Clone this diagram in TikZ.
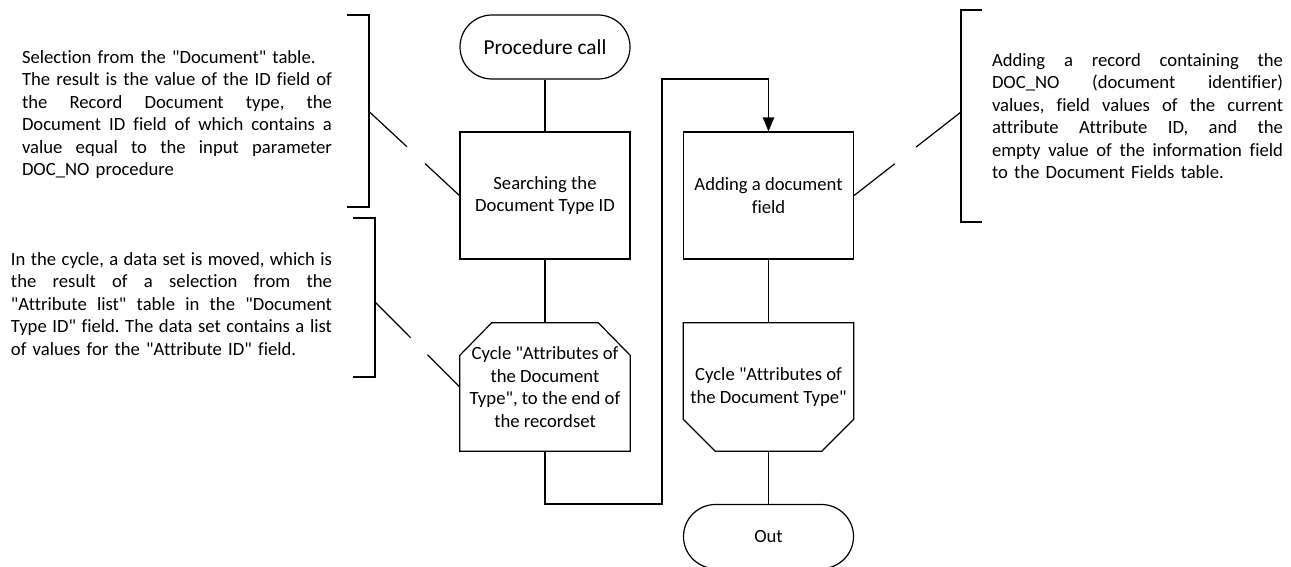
\documentclass[tikz,border=0pt]{standalone}
\usepackage{fontspec}
\setmainfont{Carlito}[Ligatures={TeXOff,CommonOff}]
\usetikzlibrary{arrows.meta,calc}
\setlength{\parindent}{0pt}
\frenchspacing
% one fully justified line of a note, of the given width
\newcommand{\justline}[2]{{\spaceskip=0pt\xspaceskip=0pt\makebox[#1][s]{#2}}}
\begin{document}
\begin{tikzpicture}[x=0.75pt,y=-0.75pt,
  every node/.style={font=\fontsize{14pt}{16.9pt}\selectfont},
  wire/.style={line width=0.9pt, draw=black},
  box/.style={draw, wire, minimum width=127.5pt, minimum height=95.25pt, inner sep=0pt, align=center},
  loopbox/.style={minimum width=127.5pt, minimum height=96pt, inner sep=0pt, align=center},
  terminal/.style={draw, wire, rounded corners=24pt, minimum width=127.5pt, minimum height=48pt, inner sep=0pt},
  note/.style={inner sep=0pt, align=left},
  flow/.style={wire, -{Triangle[length=10.5pt,width=8.5pt]}},
]
\useasboundingbox (0,0) rectangle (1291,567);

% flowchart blocks
\node[terminal, font=\fontsize{16pt}{19pt}\selectfont] (start) at (545,47) {Procedure call};
\node[box] (search) at (545,195.5) {Searching the\\Document Type ID};
\node[loopbox] (cyc1) at (545,387) {Cycle "Attributes of\\the Document\\Type", to the end of\\the recordset};
\node[box] (addf) at (768.5,195.5) {Adding a document\\field};
\node[loopbox] (cyc2) at (768.5,387) {Cycle "Attributes of\\the Document Type"};
\node[terminal] (out) at (768.5,536.5) {Out};

% loop start: top corners cut
\draw[wire] (cyc1.south west) -- ([yshift=-24.5pt]cyc1.north west) -- ([xshift=24pt]cyc1.north west)
  -- ([xshift=-24pt]cyc1.north east) -- ([yshift=-24.5pt]cyc1.north east) -- (cyc1.south east) -- cycle;
% loop end: bottom corners cut
\draw[wire] (cyc2.north west) -- ([yshift=24pt]cyc2.south west) -- ([xshift=24pt]cyc2.south west)
  -- ([xshift=-24pt]cyc2.south east) -- ([yshift=24pt]cyc2.south east) -- (cyc2.north east) -- cycle;

% connectors
\draw[wire] (start) -- (search);
\draw[wire] (search) -- (cyc1);
\draw[wire] (addf) -- (cyc2);
\draw[wire] (cyc2) -- (out);
\coordinate (jogA) at (662,504);
\coordinate (jogB) at (662,79);
\draw[flow] (cyc1.south) |- (jogA) -- (jogB) -| (addf.north);

% notes
\node[note, text width=232.5pt] (noteA) at (177,114.5) {Selection from the "Document" table.\\
\justline{232.5pt}{The result is the value of the ID field of}\\
\justline{232.5pt}{the Record Document type, the}\\
\justline{232.5pt}{Document ID field of which contains a}\\
\justline{232.5pt}{value equal to the input parameter}\\
DOC\_NO procedure};

\node[note, text width=240.75pt] (noteB) at (171.5,304) {\justline{240.75pt}{In the cycle, a data set is moved, which is}\\
\justline{240.75pt}{the result of a selection from the}\\
\justline{240.75pt}{"Attribute list" table in the "Document}\\
\justline{240.75pt}{Type ID" field. The data set contains a list}\\
of values for the "Attribute ID" field.};

\node[note, text width=218.25pt] (noteC) at (1137.5,116) {\justline{218.25pt}{Adding a record containing the}\\
\justline{218.25pt}{DOC\_NO (document identifier)}\\
\justline{218.25pt}{values, field values of the current}\\
\justline{218.25pt}{attribute Attribute ID, and the}\\
\justline{218.25pt}{empty value of the information field}\\
to the Document Fields table.};

% note brackets and their leaders
\coordinate (brA1) at (347,15);
\coordinate (brA2) at (369,15);
\coordinate (brA3) at (369,207);
\coordinate (brA4) at (347,207);
\coordinate (brAm) at (369,111.5);
\draw[wire] (brA1) -- (brA2) -- (brA3) -- (brA4);
\draw[wire] (brAm) -- ($(brAm)!0.42!(search.west)$);
\draw[wire] ($(brAm)!0.62!(search.west)$) -- (search.west);

\coordinate (brB1) at (353,218);
\coordinate (brB2) at (375,218);
\coordinate (brB3) at (375,377);
\coordinate (brB4) at (353,377);
\coordinate (brBm) at (375,302);
\draw[wire] (brB1) -- (brB2) -- (brB3) -- (brB4);
\draw[wire] (brBm) -- ($(brBm)!0.42!(cyc1.west)$);
\draw[wire] ($(brBm)!0.62!(cyc1.west)$) -- (cyc1.west);

\coordinate (brC1) at (982,10);
\coordinate (brC2) at (961,10);
\coordinate (brC3) at (961,222);
\coordinate (brC4) at (982,222);
\coordinate (brCm) at (961,112);
\draw[wire] (brC1) -- (brC2) -- (brC3) -- (brC4);
\draw[wire] (brCm) -- ($(brCm)!0.42!(addf.east)$);
\draw[wire] ($(brCm)!0.62!(addf.east)$) -- (addf.east);
\end{tikzpicture}
\end{document}
